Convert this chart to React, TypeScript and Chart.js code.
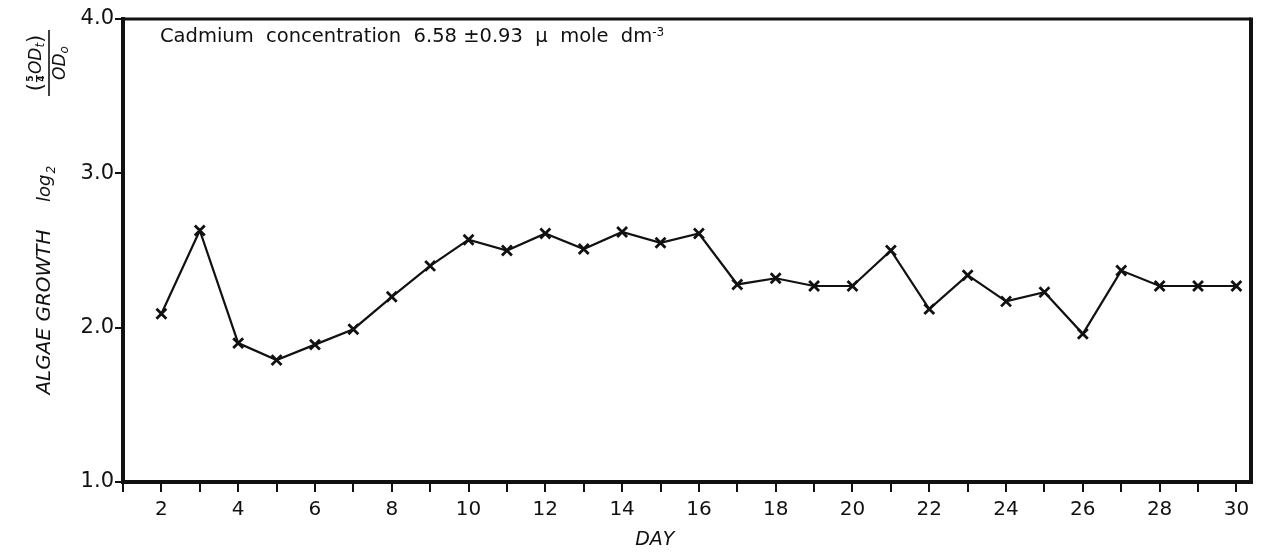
import React, { useEffect, useRef } from "react";
import { Chart, registerables } from "chart.js";

Chart.register(...registerables);

const days = [2, 3, 4, 5, 6, 7, 8, 9, 10, 11, 12, 13, 14, 15, 16, 17, 18, 19, 20, 21, 22, 23, 24, 25, 26, 27, 28, 29, 30];
const growth = [2.09, 2.63, 1.9, 1.79, 1.89, 1.99, 2.2, 2.4, 2.57, 2.5, 2.61, 2.51, 2.62, 2.55, 2.61, 2.28, 2.32, 2.27, 2.27, 2.5, 2.12, 2.34, 2.17, 2.23, 1.96, 2.37, 2.27, 2.27, 2.27];
const xTickDays = [1, 2, 3, 4, 5, 6, 7, 8, 9, 10, 11, 12, 13, 14, 15, 16, 17, 18, 19, 20, 21, 22, 23, 24, 25, 26, 27, 28, 29, 30];
const xLabelDays = [2, 4, 6, 8, 10, 12, 14, 16, 18, 20, 22, 24, 26, 28, 30];
const yTicks = [1.0, 2.0, 3.0, 4.0];
const xTitle = "DAY";
const yTitle = "ALGAE GROWTH";
const annotation = "Cadmium  concentration  6.58 \u00B10.93  \u03BC  mole  dm";

const FONT = "'DejaVu Sans', sans-serif";
const INK = "#111";

type Piece = { t?: string; font?: string; dy?: number; stack?: [string, string] };

function pieceWidth(ctx: CanvasRenderingContext2D, p: Piece) {
  if (p.stack) return 9;
  ctx.font = p.font || `17px ${FONT}`;
  return ctx.measureText(p.t || "").width;
}

function drawRow(ctx: CanvasRenderingContext2D, pieces: Piece[], cx: number, y: number) {
  const total = pieces.reduce((s, p) => s + pieceWidth(ctx, p), 0);
  let x = cx - total / 2;
  for (const p of pieces) {
    const w = pieceWidth(ctx, p);
    if (p.stack) {
      ctx.font = `bold 9px ${FONT}`;
      ctx.textAlign = "center";
      ctx.fillText(p.stack[0], x + w / 2, y - 6);
      ctx.fillText(p.stack[1], x + w / 2, y + 5);
      ctx.fillRect(x + 1, y - 1, w - 2, 1.2);
      ctx.textAlign = "left";
    } else {
      ctx.font = p.font || `17px ${FONT}`;
      ctx.fillText(p.t || "", x, y + (p.dy || 0));
    }
    x += w;
  }
}

const decorPlugin = {
  id: "decor",
  afterDraw(chart: any) {
    const ctx: CanvasRenderingContext2D = chart.ctx;
    const a = chart.chartArea;
    const xs = chart.scales.x;
    ctx.save();
    ctx.fillStyle = INK;
    ctx.strokeStyle = INK;
    // frame top & right
    ctx.lineWidth = 3;
    ctx.beginPath();
    ctx.moveTo(a.left, a.top);
    ctx.lineTo(a.right, a.top);
    ctx.stroke();
    ctx.lineWidth = 4;
    ctx.beginPath();
    ctx.moveTo(a.right, a.top - 1.5);
    ctx.lineTo(a.right, a.bottom + 2);
    ctx.stroke();

    // annotation
    ctx.textBaseline = "middle";
    ctx.textAlign = "left";
    ctx.font = `19.5px ${FONT}`;
    const ax = a.left + 37;
    const ay = a.top + 18;
    ctx.fillText(annotation, ax, ay);
    const w = ctx.measureText(annotation).width;
    ctx.font = `12px ${FONT}`;
    ctx.fillText("-3", ax + w, ay - 4);

    // x title
    ctx.font = `italic 19px ${FONT}`;
    ctx.textAlign = "center";
    ctx.fillText(xTitle, xs.getPixelForValue(14.85), a.bottom + 58);

    // y title (rotated)
    ctx.save();
    ctx.translate(45, 312);
    ctx.rotate(-Math.PI / 2);
    ctx.font = `italic 20px ${FONT}`;
    ctx.textAlign = "center";
    ctx.fillText(yTitle, 0, 0);
    ctx.restore();

    ctx.save();
    ctx.translate(45, 202);
    ctx.rotate(-Math.PI / 2);
    ctx.textAlign = "left";
    ctx.font = `italic 18px ${FONT}`;
    ctx.fillText("log", 0, 0);
    const lw = ctx.measureText("log").width;
    ctx.font = `italic 12px ${FONT}`;
    ctx.fillText("2", lw + 1, 7);
    ctx.restore();

    ctx.save();
    ctx.translate(49, 63);
    ctx.rotate(-Math.PI / 2);
    ctx.textAlign = "left";
    ctx.lineWidth = 1.6;
    ctx.beginPath();
    ctx.moveTo(-33, 0);
    ctx.lineTo(33, 0);
    ctx.stroke();
    drawRow(
      ctx,
      [
        { t: "(", font: `21px ${FONT}` },
        { stack: ["5", "4"] },
        { t: "OD", font: `italic 17px ${FONT}` },
        { t: "t", font: `italic 12px ${FONT}`, dy: 4 },
        { t: ")", font: `21px ${FONT}` },
      ],
      0,
      -12
    );
    drawRow(
      ctx,
      [
        { t: "OD", font: `italic 17px ${FONT}` },
        { t: "o", font: `italic 12px ${FONT}`, dy: 4 },
      ],
      0,
      12
    );
    ctx.restore();

    ctx.restore();
  },
};

export default function App() {
  const ref = useRef<HTMLCanvasElement | null>(null);
  useEffect(() => {
    document.body.style.margin = "0";
    const canvas = ref.current!;
    const chart = new Chart(canvas, {
      type: "line",
      data: {
        datasets: [
          {
            data: days.map((d, i) => ({ x: d, y: growth[i] })),
            borderColor: INK,
            borderWidth: 2.2,
            pointStyle: "crossRot",
            pointRadius: 7,
            pointBorderWidth: 2.8,
            pointBorderColor: INK,
            pointBackgroundColor: INK,
            tension: 0,
          },
        ],
      },
      options: {
        responsive: false,
        animation: false,
        devicePixelRatio: 1,
        layout: { padding: { left: 0, right: 11, top: 19, bottom: 0 } },
        plugins: { legend: { display: false }, tooltip: { enabled: false } },
        scales: {
          x: {
            type: "linear",
            min: 1,
            max: 30.38,
            afterBuildTicks: (s: any) => {
              s.ticks = xTickDays.map((v) => ({ value: v }));
            },
            afterFit: (s: any) => {
              s.height = 72;
            },
            ticks: {
              autoSkip: false,
              maxRotation: 0,
              color: INK,
              padding: 6,
              font: { family: FONT, size: 20 },
              callback: (v: any) => (xLabelDays.includes(Number(v)) ? String(v) : ""),
            },
            grid: { drawOnChartArea: false, drawTicks: true, tickLength: 10, color: INK, lineWidth: 2 },
            border: { display: true, color: INK, width: 4 },
          },
          y: {
            type: "linear",
            min: 1,
            max: 4,
            afterBuildTicks: (s: any) => {
              s.ticks = yTicks.map((v) => ({ value: v }));
            },
            afterFit: (s: any) => {
              s.width = 123;
            },
            ticks: {
              color: INK,
              padding: 1,
              font: { family: FONT, size: 21 },
              callback: (v: any) => Number(v).toFixed(1),
            },
            grid: { drawOnChartArea: false, drawTicks: true, tickLength: 8, color: INK, lineWidth: 2 },
            border: { display: true, color: INK, width: 4 },
          },
        },
      },
      plugins: [decorPlugin],
    });
    return () => chart.destroy();
  }, []);
  return (
    <div style={{ position: "absolute", left: 0, top: 0, width: 1262, height: 554, background: "#fff" }}>
      <canvas ref={ref} width={1262} height={554} />
    </div>
  );
}
